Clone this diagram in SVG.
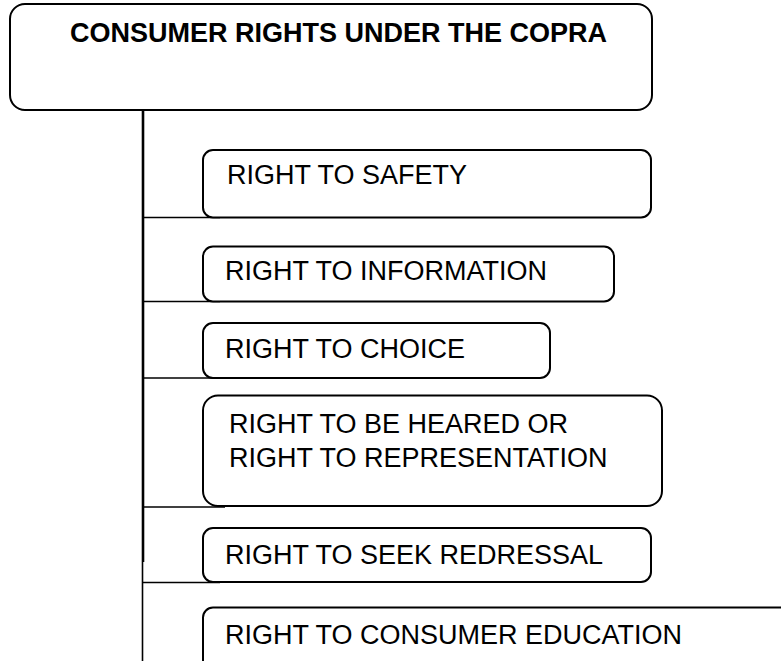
<svg xmlns="http://www.w3.org/2000/svg" width="781" height="661" viewBox="0 0 781 661">
<style>
.box{fill:#fff;stroke:#000;stroke-width:2}
.t{font-family:"Liberation Sans",Arial,sans-serif;font-size:27px;fill:#000}
.b{font-weight:bold}
.c{stroke:#000;stroke-width:1.6;fill:none}
</style>
<rect width="781" height="661" fill="#fff"/>
<g id="connectors">
<line class="c" x1="143" y1="110" x2="143" y2="562" style="stroke-width:2.6"/>
<line class="c" x1="142.5" y1="562" x2="142.5" y2="661"/>
<line class="c" x1="143" y1="217.5" x2="220" y2="217.5"/>
<line class="c" x1="143" y1="301.5" x2="220" y2="301.5"/>
<line class="c" x1="143" y1="378" x2="220" y2="378"/>
<line class="c" x1="143" y1="507" x2="225" y2="507"/>
<line class="c" x1="143" y1="582.5" x2="220" y2="582.5"/>
</g>
<g id="title">
<rect class="box" x="10" y="4" width="642" height="106" rx="15"/>
<text class="t b" x="70" y="41.5">CONSUMER RIGHTS UNDER THE COPRA</text>
</g>
<g id="safety">
<rect class="box" x="203" y="150" width="448" height="67.5" rx="10"/>
<text class="t" x="227" y="184">RIGHT TO SAFETY</text>
</g>
<g id="information">
<rect class="box" x="203" y="246.5" width="411" height="55" rx="10"/>
<text class="t" x="225" y="280">RIGHT TO INFORMATION</text>
</g>
<g id="choice">
<rect class="box" x="203" y="323" width="347" height="55" rx="10"/>
<text class="t" x="225" y="358">RIGHT TO CHOICE</text>
</g>
<g id="heard">
<rect class="box" x="203" y="395.5" width="459" height="110.5" rx="15"/>
<text class="t" x="229" y="433">RIGHT TO BE HEARED OR</text>
<text class="t" x="229" y="467">RIGHT TO REPRESENTATION</text>
</g>
<g id="redressal">
<rect class="box" x="203" y="528" width="448" height="54" rx="10"/>
<text class="t" x="225" y="564">RIGHT TO SEEK REDRESSAL</text>
</g>
<g id="education">
<rect class="box" x="203" y="607.5" width="640" height="90" rx="10"/>
<text class="t" x="225" y="644">RIGHT TO CONSUMER EDUCATION</text>
</g>
</svg>
